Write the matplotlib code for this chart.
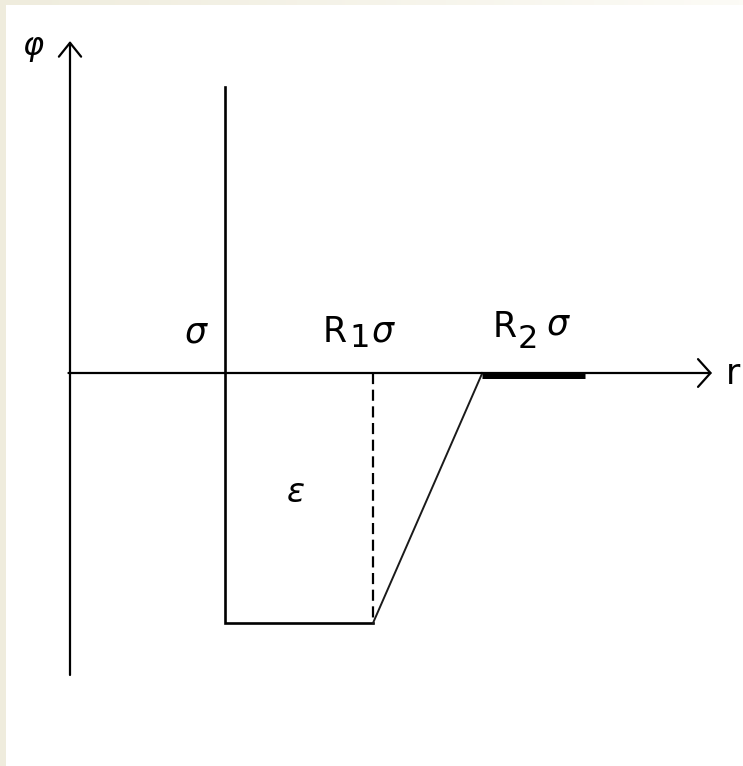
import numpy as np
import matplotlib
matplotlib.use("Agg")
import matplotlib.pyplot as plt

# Square-well-like potential: hard core at sigma, flat well down to R1*sigma,
# linear ramp back to zero at R2*sigma (all distances in units of sigma).
sigma = 1.0
R1 = 1.955
R2 = 2.66
r_tail = 3.32
eps_depth = 1.0
wall_top = 1.144

# outline of the potential
well_r = [sigma, sigma, R1, R2]
well_phi = [wall_top, -eps_depth, -eps_depth, 0.0]

# axis extents
r_axis = [0.0, 4.142]
phi_axis = [-1.208, 1.328]

# labels: (text, x, y, ha, va, size, style)
labels = [
    ("φ", -0.239, 1.304, "center", "center", 23, "italic"),
    ("σ", 0.815, 0.122, "center", "baseline", 25, "italic"),
    ("R", 1.632, 0.124, "left", "baseline", 25, "normal"),
    ("1", 1.800, 0.104, "left", "baseline", 23, "normal"),
    ("σ", 1.948, 0.124, "left", "baseline", 25, "italic"),
    ("R", 2.729, 0.144, "left", "baseline", 25, "normal"),
    ("2", 2.885, 0.100, "left", "baseline", 23, "normal"),
    ("σ", 3.077, 0.152, "left", "baseline", 25, "italic"),
    ("ε", 1.458, -0.48, "center", "center", 24, "italic"),
    ("r", 4.280, -0.005, "center", "center", 25, "normal"),
]

W, H = 743, 766
fig = plt.figure(figsize=(W / 100, H / 100), dpi=100)

# pale beige frame along the left and top edges
bg = fig.add_axes([0, 0, 1, 1])
bg.set_axis_off()
bg.set_xlim(0, W)
bg.set_ylim(H, 0)
bg.add_patch(plt.Rectangle((0, 0), 6, H, color="#efecdd", lw=0))
grad = np.linspace(0, 1, 200)[None, :, None]
c0 = np.array([239, 236, 221]) / 255
c1 = np.array([252, 251, 246]) / 255
bg.imshow(c0 + (c1 - c0) * grad, extent=(0, W, 5, 0), aspect="auto")

ax = fig.add_axes([0, 0, 1, 1])
ax.set_axis_off()
ax.patch.set_alpha(0)
ax.set_xlim(-70 / 155, (W - 70) / 155)
ax.set_ylim(-(H - 373) / 250, 373 / 250)

lw = 1.6
# r axis and phi axis with open arrow heads
ax.annotate("", xy=(r_axis[1], 0), xytext=(r_axis[0] - 0.01, 0),
            arrowprops=dict(arrowstyle="->,head_length=0.45,head_width=0.5",
                            lw=lw, color="black", mutation_scale=20,
                            shrinkA=0, shrinkB=0))
ax.annotate("", xy=(0, phi_axis[1]), xytext=(0, phi_axis[0]),
            arrowprops=dict(arrowstyle="->,head_length=0.5,head_width=0.4",
                            lw=lw, color="black", mutation_scale=20,
                            shrinkA=0, shrinkB=0))

# hard wall and flat bottom
ax.plot(well_r[:3], well_phi[:3], color="black", lw=lw + 0.3,
        solid_joinstyle="miter")
# linear ramp
ax.plot(well_r[2:], well_phi[2:], color="#1a1a1a", lw=1.4)
# dashed marker at R1*sigma
ax.plot([R1, R1], [0, -eps_depth], color="black", lw=lw,
        dashes=(5, 2.5))
# thick segment beyond R2*sigma
ax.plot([R2, r_tail], [-0.011, -0.011], color="black", lw=3.6,
        solid_capstyle="butt")

for txt, x, y, ha, va, size, style in labels:
    ax.text(x, y, txt, ha=ha, va=va, fontsize=size, style=style,
            family="DejaVu Sans", color="black")

fig.savefig("out.png", dpi=100, facecolor="white")
